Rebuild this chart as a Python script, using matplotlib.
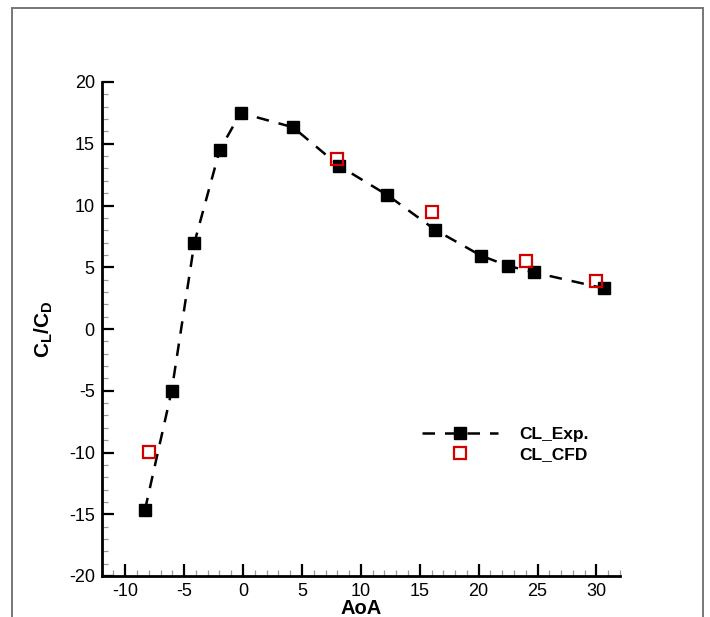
import matplotlib
matplotlib.use("Agg")
import matplotlib.pyplot as plt
from matplotlib.lines import Line2D
from matplotlib.ticker import MultipleLocator

plt.rcParams['font.family'] = ['Liberation Sans', 'DejaVu Sans']
plt.rcParams['mathtext.fontset'] = 'custom'
plt.rcParams['mathtext.rm'] = 'Liberation Sans'
plt.rcParams['mathtext.bf'] = 'Liberation Sans:bold'
plt.rcParams['axes.unicode_minus'] = False

# Experimental lift-to-drag ratio
aoa_exp = [-8.33, -6.06, -4.13, -1.98, -0.2, 4.25, 8.17, 12.24, 16.33, 20.2, 22.45, 24.66, 30.6]
cl_cd_exp = [-14.66, -5.0, 6.99, 14.5, 17.5, 16.33, 13.2, 10.85, 8.02, 5.94, 5.13, 4.59, 3.3]

# CFD lift-to-drag ratio
aoa_cfd = [-8.0, 8.0, 16.0, 24.0, 30.0]
cl_cd_cfd = [-9.96, 13.77, 9.5, 5.53, 3.89]

x_ticks = [-10, -5, 0, 5, 10, 15, 20, 25, 30]
y_ticks = [-20, -15, -10, -5, 0, 5, 10, 15, 20]

W, H = 710, 617
fig = plt.figure(figsize=(W / 100, H / 100), dpi=100)
ax = fig.add_axes([101.7 / W, (H - 576) / H, (620 - 101.7) / W, (576 - 82) / H])

ax.plot(aoa_exp, cl_cd_exp, color='black', lw=1.8, dashes=(5, 4),
        marker='s', markersize=8.3, markerfacecolor='black',
        markeredgecolor='black', label='CL_Exp.', zorder=3)
ax.plot(aoa_cfd, cl_cd_cfd, ls='none', marker='s', markersize=8.3,
        markerfacecolor='none', markeredgecolor='#d40000', markeredgewidth=1.6,
        label='CL_CFD', zorder=4)

ax.set_xlim(-12, 32)
ax.set_ylim(-20, 20)
ax.set_xticks(x_ticks)
ax.set_yticks(y_ticks)
ax.xaxis.set_minor_locator(MultipleLocator(1))
ax.yaxis.set_minor_locator(MultipleLocator(1))

for s in ('top', 'right'):
    ax.spines[s].set_visible(False)
for s in ('left', 'bottom'):
    ax.spines[s].set_linewidth(2.0)
    ax.spines[s].set_capstyle('projecting')

ax.tick_params(which='major', direction='in', length=8.5, width=1.6,
               labelsize=13, pad=5, color='black')
ax.tick_params(which='minor', direction='in', length=4.5, width=0.9,
               color='#999999')
ax.tick_params(top=False, right=False, which='both')

ax.set_xlabel('AoA', fontsize=14.5, fontweight='bold', labelpad=-1)
ax.set_ylabel(r'$\mathbf{C_L/C_D}$', fontsize=15, labelpad=10)

ax.legend(loc='upper left', bbox_to_anchor=(0.618, 0.302), frameon=False,
          prop={'weight': 'bold', 'size': 12.5},
          handlelength=4.4, handletextpad=1.2, labelspacing=0.3,
          borderpad=0, borderaxespad=0)

# Outer frame
frame_kw = dict(transform=fig.transFigure, color='#777777', lw=1.4)
fig.add_artist(Line2D([12 / W, 12 / W], [0, 1 - 8 / H], **frame_kw))
fig.add_artist(Line2D([12 / W, 703 / W], [1 - 8 / H, 1 - 8 / H], **frame_kw))
fig.add_artist(Line2D([703 / W, 703 / W], [0, 1 - 8 / H], **frame_kw))

fig.savefig('out.png', dpi=100)
